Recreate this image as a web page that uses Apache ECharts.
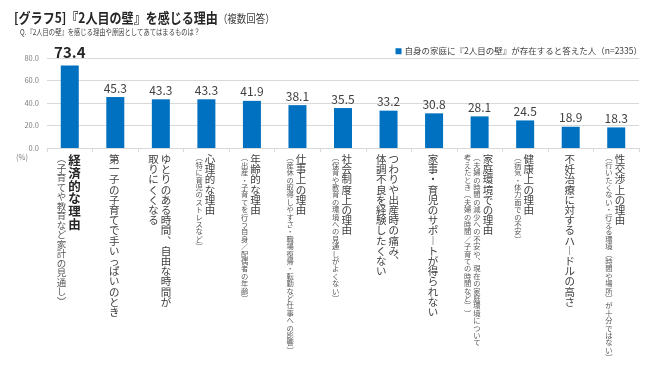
<!DOCTYPE html>
<html><head><meta charset="utf-8">
<script src="https://cdn.jsdelivr.net/npm/echarts@6/dist/echarts.min.js"></script>
<style>html,body{margin:0;padding:0;background:#fff}#c{width:650px;height:366px}</style>
</head><body><div id="c"></div>
<script>
const titleMain = "[グラフ5]『2人目の壁』を感じる理由";
const titleNote = "（複数回答）";
const subTitle = "Q.『2人目の壁』を感じる理由や原因としてあてはまるものは？";
const mainLabels = [
  "経済的な理由",
  "第一子の子育てで手いっぱいのとき",
  "ゆとりのある時間、自由な時間が\n取りにくくなる",
  "心理的な理由",
  "年齢的な理由",
  "仕事上の理由",
  "社会制度上の理由",
  "つわりや出産時の痛み、\n体調不良を経験したくない",
  "家事・育児のサポートが得られない",
  "家庭環境での理由",
  "健康上の理由",
  "不妊治療に対するハードルの高さ",
  "性交渉上の理由"
];
const subLabels = [
  "（子育てや教育など家計の見通し）",
  "",
  "",
  "（特に育児のストレスなど）",
  "（出産・子育てを行う自身／配偶者の年齢）",
  "（産休の取得しやすさ・職場復帰・転勤など仕事への影響）",
  "（保育や教育の環境への見通しがよくない）",
  "",
  "",
  "（夫婦の時間の減少への不安や、現在の家庭環境について\n考えたとき（夫婦の時間／子育ての時間など））",
  "（病気・体力面での不安）",
  "",
  "（行いたくない・行える環境（時間や場所）が十分ではない）"
];
const values = [73.4, 45.3, 43.3, 43.3, 41.9, 38.1, 35.5, 33.2, 30.8, 28.1, 24.5, 18.9, 18.3];
const yTicks = [0, 20, 40, 60, 80];
const seriesName = "自身の家庭に『2人目の壁』が存在すると答えた人（n=2335）";

const FONT = '"Noto Sans CJK JP", "Noto Sans", sans-serif';
// vertical presentation forms
const vmap = {"（":"︵","）":"︶","、":"︑","ー":"︱"};
function vchars(s){ return Array.from(s).map(c => vmap[c] || c); }

const NCOL = 3;
const rich = {};
const colTexts = [];
for (let k = 0; k < NCOL; k++) colTexts.push([]);
mainLabels.forEach((m, i) => {
  const cols = [];
  const first = i === 0;
  m.split("\n").forEach(t => cols.push({t, fs: first ? 12.5 : 10.5, lh: first ? 12.7 : 10.2, bold: first, color: first ? "#262626" : "#404040"}));
  if (subLabels[i]) subLabels[i].split("\n").forEach(t => cols.push({t, fs: first ? 9.5 : 7.3, lh: first ? 9.5 : 7.4, bold: false, color: "#595959"}));
  const gap = 2;
  const W = cols.reduce((a, c) => a + c.fs, 0) + gap * (cols.length - 1);
  let right = W / 2;
  for (let k = 0; k < NCOL; k++) {
    const c = cols[k];
    if (!c) { colTexts[k].push(""); continue; }
    const cx = right - c.fs / 2;
    right -= c.fs + gap;
    const dx = cx - 1;
    const name = "c" + i + "_" + k;
    rich[name] = {
      fontSize: c.fs, lineHeight: c.lh, fontFamily: FONT, color: c.color,
      fontWeight: c.bold ? "bold" : "normal",
      padding: dx >= 0 ? [0, 0, 0, 2 * dx] : [0, -2 * dx, 0, 0]
    };
    colTexts[k].push(vchars(c.t).map(ch => "{" + name + "|" + ch + "}").join("\n"));
  }
});

const xAxes = [];
for (let k = 0; k < NCOL; k++) {
  xAxes.push({
    type: "category", data: mainLabels, gridIndex: 0, position: "bottom",
    axisLine: {show: k === 0, lineStyle: {color: "#d9d9d9"}},
    axisTick: {show: k === 0, length: 4, lineStyle: {color: "#d9d9d9"}},
    splitLine: {show: false},
    axisLabel: {
      interval: 0, margin: 6, hideOverlap: false,
      formatter: (v, idx) => colTexts[k][idx],
      rich: rich, fontFamily: FONT, fontSize: 10, lineHeight: 10.2
    }
  });
}

const chart = echarts.init(document.getElementById("c"), null, {renderer: "canvas"});
chart.setOption({
  animation: false,
  textStyle: {fontFamily: FONT},
  legend: {
    right: 3, top: 42, icon: "rect", itemWidth: 6, itemHeight: 6, itemGap: 4,
    textStyle: {fontSize: 8.5, color: "#404040", fontFamily: FONT, padding: [0, 0, 0, -2]}
  },
  grid: {left: 47, right: 11, top: 58, height: 90},
  xAxis: xAxes,
  yAxis: {
    type: "value", min: yTicks[0], max: yTicks[yTicks.length - 1], interval: 20,
    axisLine: {show: false}, axisTick: {show: false},
    splitLine: {lineStyle: {color: "#d9d9d9", width: 1}},
    axisLabel: {formatter: v => v.toFixed(1), fontSize: 7.5, color: "#7f7f7f", margin: 8, fontFamily: FONT}
  },
  graphic: [
    {type: "text", x: 14, y: 18, scaleX: 0.86, style: {
      text: "{a|" + titleMain + "}{b|" + titleNote + "}",
      verticalAlign: "middle", align: "left",
      rich: {
        a: {fontSize: 14, fontWeight: "bold", fill: "#262626", fontFamily: FONT},
        b: {fontSize: 11, fill: "#404040", fontFamily: FONT, padding: [2, 0, 0, 0]}
      }
    }},
    {type: "text", x: 20, y: 31.5, scaleX: 0.77, style: {
      text: subTitle, verticalAlign: "middle", align: "left",
      fontSize: 8.2, fill: "#404040", fontFamily: FONT
    }},
    {type: "text", left: 16, top: 153, style: {text: "(%)", fontSize: 7.5, fill: "#7f7f7f", fontFamily: FONT}}
  ],
  series: [{
    type: "bar", name: seriesName, xAxisIndex: 0,
    barWidth: 18,
    itemStyle: {color: "#0070c0"},
    data: values.map((v, i) => i === 0 ? {value: v, label: {fontSize: 15, fontWeight: "bold", color: "#262626", distance: 6}} : v),
    label: {show: true, position: "top", distance: 3, formatter: p => p.value.toFixed(1), fontSize: 12, color: "#404040", fontFamily: FONT}
  }]
});
</script></body></html>
